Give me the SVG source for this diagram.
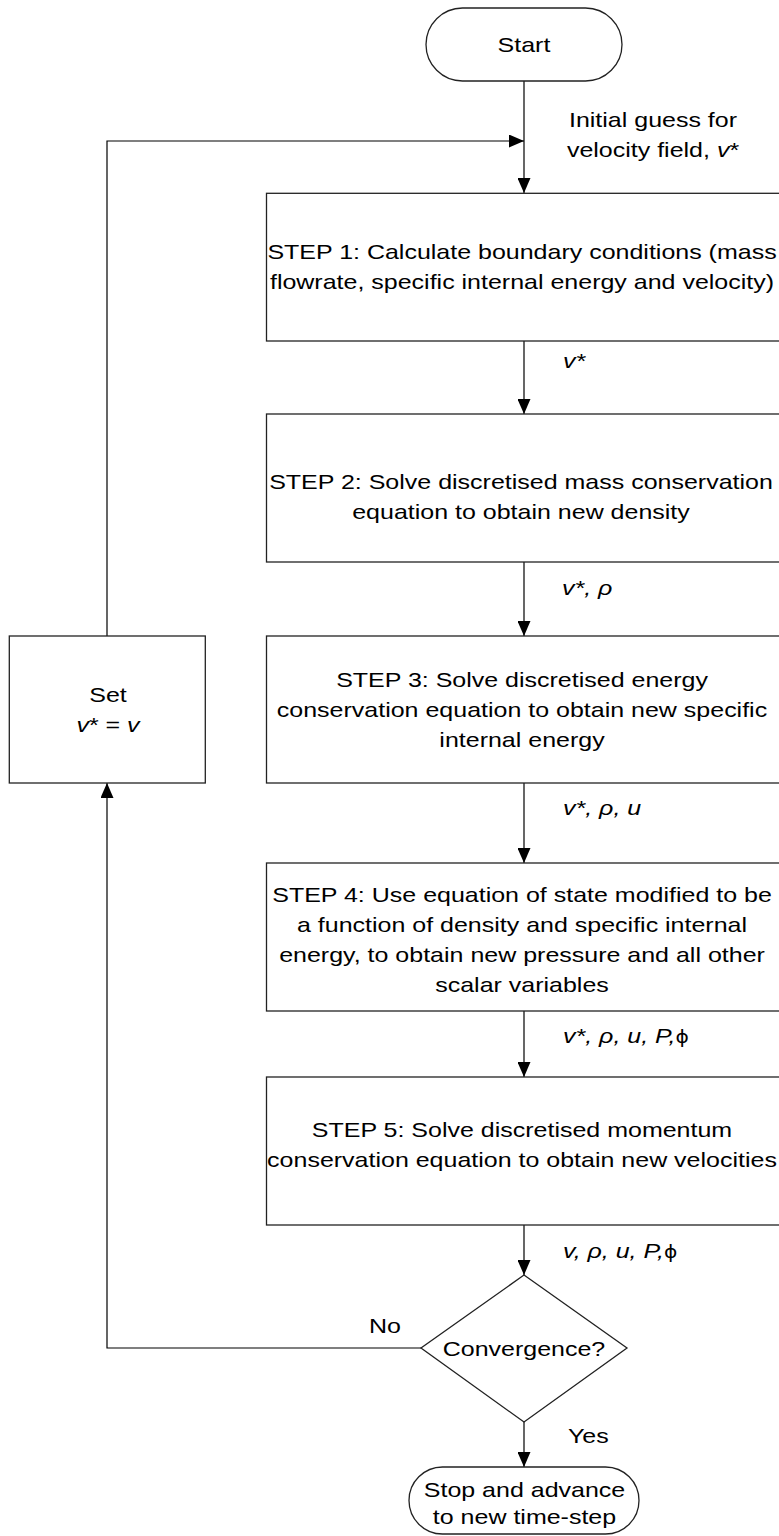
<svg xmlns="http://www.w3.org/2000/svg" width="779" height="1536" viewBox="0 0 779 1536">
<style>
.box{fill:#fff;stroke:#222;stroke-width:1.3}
.c{fill:none;stroke:#000;stroke-width:1.2}
.t{font-family:"Liberation Sans",Arial,"DejaVu Sans",sans-serif;font-size:21px;fill:#000}
.i{font-style:italic}
.ph{font-style:normal;font-size:17px;font-family:"DejaVu Sans","Liberation Sans",sans-serif}
</style>
<defs>
<marker id="arr" markerUnits="userSpaceOnUse" markerWidth="15" markerHeight="13" refX="15" refY="6.5" orient="auto">
<path d="M0,0 L15,6.5 L0,13 Z" fill="#000"/>
</marker>
</defs>
<rect width="779" height="1536" fill="#fff"/>

<g id="connectors">
<line class="c" x1="524" y1="81" x2="524" y2="193" marker-end="url(#arr)"/>
<polyline class="c" points="107,636 107,141 524,141" marker-end="url(#arr)"/>
<line class="c" x1="524" y1="341" x2="524" y2="414" marker-end="url(#arr)"/>
<line class="c" x1="524" y1="562" x2="524" y2="636" marker-end="url(#arr)"/>
<line class="c" x1="524" y1="783" x2="524" y2="863" marker-end="url(#arr)"/>
<line class="c" x1="524" y1="1011" x2="524" y2="1077" marker-end="url(#arr)"/>
<line class="c" x1="524" y1="1225" x2="524" y2="1275" marker-end="url(#arr)"/>
<line class="c" x1="524" y1="1422" x2="524" y2="1467" marker-end="url(#arr)"/>
<polyline class="c" points="421,1348 107,1348 107,783" marker-end="url(#arr)"/>
<text class="t" font-size="20" transform="matrix(1.19 0 0 1 653 0)" text-anchor="middle"><tspan x="0" y="127">Initial guess for</tspan><tspan x="0" y="157">velocity field, <tspan class="i">v</tspan>*</tspan></text>
<text class="t i" transform="matrix(1.19 0 0 1 563 0)"><tspan x="0" y="368">v*</tspan></text>
<text class="t i" transform="matrix(1.19 0 0 1 562 0)"><tspan x="0" y="595">v*, ρ</tspan></text>
<text class="t i" transform="matrix(1.19 0 0 1 563 0)"><tspan x="0" y="815">v*, ρ, u</tspan></text>
<text class="t i" transform="matrix(1.19 0 0 1 563 0)"><tspan x="0" y="1043">v*, ρ, u, P,<tspan class="ph">ϕ</tspan></tspan></text>
<text class="t i" transform="matrix(1.19 0 0 1 563 0)"><tspan x="0" y="1258">v, ρ, u, P,<tspan class="ph">ϕ</tspan></tspan></text>
<text class="t" font-size="20.4" transform="matrix(1.19 0 0 1 369 0)"><tspan x="0" y="1333">No</tspan></text>
<text class="t" font-size="20.4" transform="matrix(1.19 0 0 1 568 0)"><tspan x="0" y="1443">Yes</tspan></text>
</g>

<g id="start">
<rect class="box" x="426" y="8" width="196" height="73" rx="36.5"/>
<text class="t" font-size="23.4" text-anchor="middle" transform="matrix(1.19 0 0 1 524 0)"><tspan x="0" y="52">Start</tspan></text>
</g>

<g id="step1">
<rect class="box" x="266.5" y="193.3" width="514" height="147.7"/>
<text class="t" text-anchor="middle" transform="matrix(1.19 0 0 1 522 0)"><tspan x="0" y="259.5">STEP 1: Calculate boundary conditions (mass</tspan><tspan x="0" y="289.5">flowrate, specific internal energy and velocity)</tspan></text>
</g>

<g id="step2">
<rect class="box" x="266.5" y="414" width="514" height="148"/>
<text class="t" text-anchor="middle" transform="matrix(1.19 0 0 1 521 0)"><tspan x="0" y="489">STEP 2: Solve discretised mass conservation</tspan><tspan x="0" y="519">equation to obtain new density</tspan></text>
</g>

<g id="step3">
<rect class="box" x="266.5" y="636" width="514" height="147"/>
<text class="t" text-anchor="middle" transform="matrix(1.19 0 0 1 522 0)"><tspan x="0" y="687">STEP 3: Solve discretised energy</tspan><tspan x="0" y="717">conservation equation to obtain new specific</tspan><tspan x="0" y="747">internal energy</tspan></text>
</g>

<g id="step4">
<rect class="box" x="266.5" y="863" width="514" height="148"/>
<text class="t" text-anchor="middle" transform="matrix(1.19 0 0 1 522 0)"><tspan x="0" y="902">STEP 4: Use equation of state modified to be</tspan><tspan x="0" y="932">a function of density and specific internal</tspan><tspan x="0" y="962">energy, to obtain new pressure and all other</tspan><tspan x="0" y="992">scalar variables</tspan></text>
</g>

<g id="step5">
<rect class="box" x="266.5" y="1077" width="514" height="148"/>
<text class="t" text-anchor="middle" transform="matrix(1.19 0 0 1 522 0)"><tspan x="0" y="1137">STEP 5: Solve discretised momentum</tspan><tspan x="0" y="1167">conservation equation to obtain new velocities</tspan></text>
</g>

<g id="set">
<rect class="box" x="9.3" y="636" width="196" height="147"/>
<text class="t" text-anchor="middle" transform="matrix(1.19 0 0 1 108 0)"><tspan x="0" y="702">Set</tspan><tspan x="0" y="732"><tspan class="i">v</tspan>* = <tspan class="i">v</tspan></tspan></text>
</g>

<g id="convergence">
<polygon class="box" points="524,1275 627,1348 524,1422 421,1348"/>
<text class="t" font-size="20.4" text-anchor="middle" transform="matrix(1.19 0 0 1 524 0)"><tspan x="0" y="1356">Convergence?</tspan></text>
</g>

<g id="stop">
<rect class="box" x="409" y="1467" width="230" height="67" rx="33.5"/>
<text class="t" font-size="20.4" text-anchor="middle" transform="matrix(1.19 0 0 1 524.5 0)"><tspan x="0" y="1497">Stop and advance</tspan><tspan x="0" y="1524">to new time-step</tspan></text>
</g>
</svg>
